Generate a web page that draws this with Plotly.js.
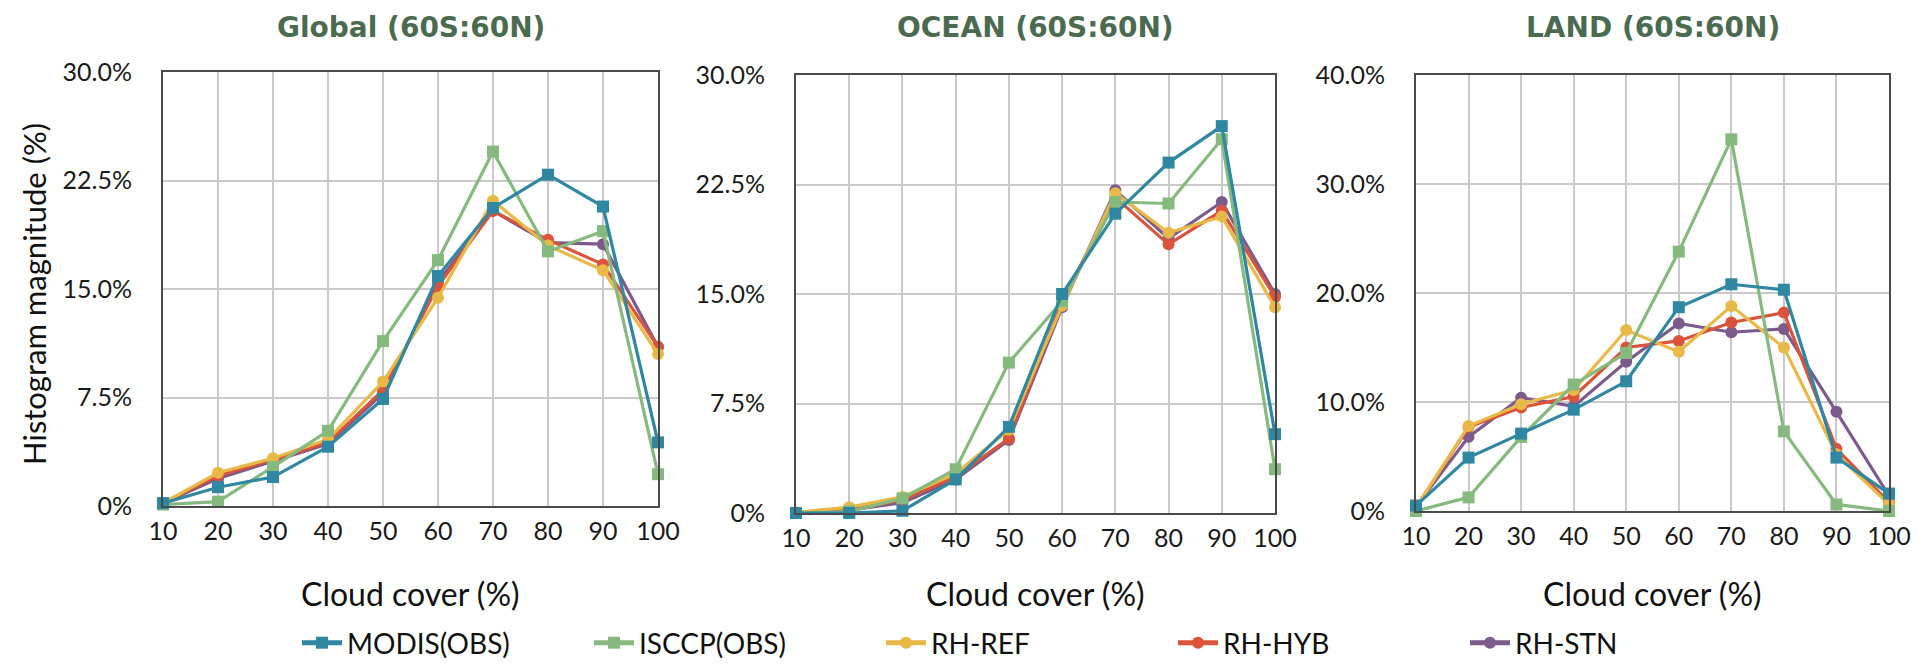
<!DOCTYPE html>
<html>
<head>
<meta charset="utf-8">
<script src="https://cdn.plot.ly/plotly-3.0.1.min.js"></script>
<style>html,body{margin:0;padding:0;background:#fff;}#chart{width:1923px;height:669px;}</style>
</head>
<body>
<div id="chart"></div>
<script>
// Cloud cover bins (%)
const cloudCover = [10, 20, 30, 40, 50, 60, 70, 80, 90, 100];

// Series names
const seriesNames = ["MODIS(OBS)", "ISCCP(OBS)", "RH-REF", "RH-HYB", "RH-STN"];

// Global (60S:60N) histogram magnitude (%)
const globalMODIS = [0.2, 1.3, 2.0, 4.1, 7.4, 15.9, 20.6, 22.9, 20.7, 4.4];
const globalISCCP = [0.1, 0.3, 2.7, 5.2, 11.4, 17.0, 24.5, 17.6, 19.0, 2.2];
const globalREF   = [0.2, 2.3, 3.3, 4.6, 8.6, 14.4, 21.1, 18.0, 16.3, 10.5];
const globalHYB   = [0.2, 2.1, 3.2, 4.4, 8.0, 15.2, 20.4, 18.4, 16.7, 11.0];
const globalSTN   = [0.2, 1.9, 3.1, 4.3, 7.8, 15.5, 20.4, 18.2, 18.1, 11.0];

// OCEAN (60S:60N)
const oceanMODIS = [0.0, 0.0, 0.15, 2.3, 5.9, 15.0, 20.5, 24.0, 26.5, 5.4];
const oceanISCCP = [0.0, 0.1, 1.0, 3.0, 10.3, 14.5, 21.3, 21.2, 25.6, 3.0];
const oceanREF   = [0.05, 0.4, 1.1, 2.7, 5.7, 14.2, 21.9, 19.2, 20.3, 14.1];
const oceanHYB   = [0.0, 0.2, 0.9, 2.5, 5.1, 14.5, 21.6, 18.4, 20.7, 14.8];
const oceanSTN   = [0.0, 0.2, 0.7, 2.3, 5.0, 14.1, 22.1, 18.8, 21.3, 15.0];

// LAND (60S:60N)
const landMODIS = [0.5, 4.9, 7.1, 9.3, 11.9, 18.7, 20.8, 20.3, 4.9, 1.6];
const landISCCP = [0.0, 1.25, 6.8, 11.6, 14.5, 23.8, 34.1, 7.3, 0.6, 0.0];
const landREF   = [0.3, 7.8, 9.8, 11.1, 16.6, 14.6, 18.8, 15.0, 5.2, 0.6];
const landHYB   = [0.3, 7.7, 9.5, 10.5, 15.0, 15.6, 17.3, 18.2, 5.7, 0.8];
const landSTN   = [0.4, 6.8, 10.4, 9.6, 13.7, 17.2, 16.4, 16.7, 9.1, 1.4];

// Tick labels
const yTicks30 = [0, 7.5, 15, 22.5, 30];
const yTickText30 = ["0%", "7.5%", "15.0%", "22.5%", "30.0%"];
const yTicks40 = [0, 10, 20, 30, 40];
const yTickText40 = ["0%", "10.0%", "20.0%", "30.0%", "40.0%"];

const panelTitles = ["Global (60S:60N)", "OCEAN (60S:60N)", "LAND (60S:60N)"];
const xTitle = "Cloud cover (%)";
const yTitle = "Histogram magnitude (%)";

const colors = ["#2f87a1", "#86b97e", "#e8b947", "#da533a", "#7c5b8c"];
const symbols = ["square", "square", "circle", "circle", "circle"];

const panels = [
  [globalMODIS, globalISCCP, globalREF, globalHYB, globalSTN],
  [oceanMODIS, oceanISCCP, oceanREF, oceanHYB, oceanSTN],
  [landMODIS, landISCCP, landREF, landHYB, landSTN]
];

const W = 1923, H = 669;
// plot boxes in pixels [left, right, top, bottom]
const boxes = [[163, 658, 72, 506], [796, 1275, 75, 513], [1416, 1889, 75, 511]];

const FONT = "Lato, 'DejaVu Sans', sans-serif";

const traces = [];
// draw order: model runs first, observations on top
const drawOrder = [4, 3, 2, 1, 0];
panels.forEach((series, p) => {
  const ax = p === 0 ? "" : String(p + 1);
  drawOrder.forEach(i => {
    traces.push({
      type: "scatter",
      mode: "lines+markers",
      x: cloudCover,
      y: series[i],
      name: seriesNames[i],
      legendgroup: seriesNames[i],
      showlegend: p === 0,
      legendrank: i + 1,
      xaxis: "x" + ax,
      yaxis: "y" + ax,
      cliponaxis: false,
      line: {color: colors[i], width: 3.2},
      marker: {color: colors[i], symbol: symbols[i], size: 12}
    });
  });
});

const tickFont = {family: FONT, size: 25, color: "#1a1a1a"};
const titleFont = {family: FONT, size: 32, color: "#111"};

const layout = {
  width: W, height: H,
  margin: {l: 0, r: 0, t: 0, b: 0, autoexpand: false},
  paper_bgcolor: "#fff",
  plot_bgcolor: "#fff",
  showlegend: true,
  legend: {
    orientation: "h",
    x: 297 / W, xanchor: "left",
    y: 1 - 643 / H, yanchor: "middle",
    font: {family: FONT, size: 28, color: "#111"},
    itemwidth: 40,
    entrywidth: 237,
    itemsizing: "constant",
    bgcolor: "rgba(0,0,0,0)"
  },
  annotations: [{
    text: yTitle,
    xref: "paper", yref: "paper",
    x: 34 / W, y: 1 - 294 / H,
    xanchor: "center", yanchor: "middle",
    textangle: -90,
    showarrow: false,
    font: {family: FONT, size: 31, color: "#111"}
  }]
};

boxes.forEach((b, p) => {
  const ax = p === 0 ? "" : String(p + 1);
  const isLand = p === 2;
  layout["xaxis" + ax] = {
    domain: [b[0] / W, b[1] / W],
    anchor: "y" + ax,
    range: [10, 100],
    tickvals: cloudCover,
    ticktext: cloudCover.map(String),
    showgrid: true,
    gridcolor: "#c9c9c9",
    gridwidth: 2,
    zeroline: false,
    showline: true,
    linecolor: "#4a4a4a",
    linewidth: 2,
    mirror: true,
    ticks: "",
    automargin: false,
    ticklabelstandoff: 2,
    tickfont: tickFont
  };
  layout["yaxis" + ax] = {
    domain: [1 - b[3] / H, 1 - b[2] / H],
    anchor: "x" + ax,
    range: isLand ? [0, 40] : [0, 30],
    tickvals: isLand ? yTicks40 : yTicks30,
    ticktext: isLand ? yTickText40 : yTickText30,
    showgrid: true,
    gridcolor: "#c9c9c9",
    gridwidth: 2,
    zeroline: false,
    showline: true,
    linecolor: "#4a4a4a",
    linewidth: 2,
    mirror: true,
    ticks: "",
    automargin: false,
    ticklabelstandoff: 24,
    tickfont: tickFont
  };
  layout.annotations.push({
    text: "<b>" + panelTitles[p] + "</b>",
    xref: "paper", yref: "paper",
    x: (b[0] + b[1]) / 2 / W, y: 1 - 28 / H,
    xanchor: "center", yanchor: "middle",
    showarrow: false,
    font: {family: "'DejaVu Sans', sans-serif", size: 28, color: "#4b6b51"}
  });
  layout.annotations.push({
    text: xTitle,
    xref: "paper", yref: "paper",
    x: (b[0] + b[1]) / 2 / W, y: 1 - 593 / H,
    xanchor: "center", yanchor: "middle",
    showarrow: false,
    font: titleFont
  });
});

Plotly.newPlot("chart", traces, layout, {displayModeBar: false, staticPlot: true});
</script>
</body>
</html>
